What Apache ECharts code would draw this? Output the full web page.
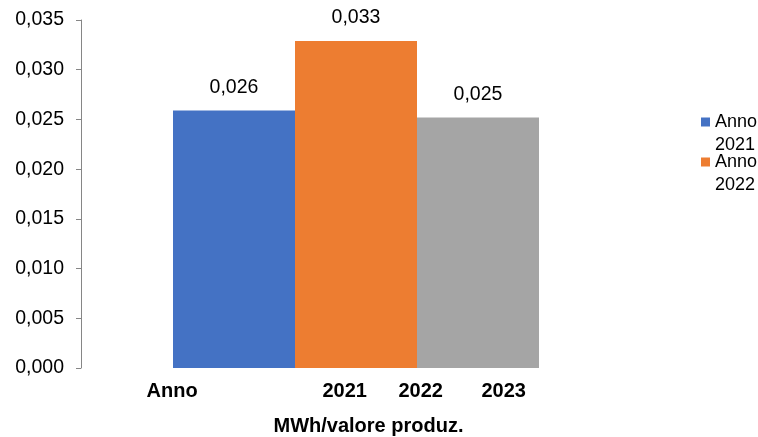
<!DOCTYPE html>
<html>
<head>
<meta charset="utf-8">
<script src="https://cdn.jsdelivr.net/npm/echarts@6/dist/echarts.min.js"></script>
<style>html,body{margin:0;padding:0;background:#fff}#c{width:758px;height:437px}</style>
</head>
<body>
<div id="c"></div>
<script>
var seriesNames = ['Anno 2021', 'Anno 2022', 'Anno 2023'];
var seriesValues = [0.0259, 0.0329, 0.0252];
var seriesLabels = ['0,026', '0,033', '0,025'];
var seriesColors = ['#4472C4', '#ED7D31', '#A5A5A5'];
var legendNames = ['Anno 2021', 'Anno 2022'];
var categories = ['Anno 2021 2022 2023'];
var axisTitle = 'MWh/valore produz.';

var chart = echarts.init(document.getElementById('c'), null, {renderer: 'canvas'});
var font = '"Liberation Sans", Arial, sans-serif';
var series = seriesNames.map(function (n, i) {
  return {
    name: n,
    type: 'bar',
    data: [seriesValues[i]],
    barWidth: 122,
    barGap: '0%',
    itemStyle: {color: seriesColors[i]},
    label: {
      show: true, position: 'top', distance: 13,
      formatter: function () { return seriesLabels[i]; },
      color: '#000', fontSize: 19.5, fontFamily: font
    }
  };
});
var bold = {fontSize: 20, fontWeight: 'bold', color: '#000', fontFamily: font, align: 'left'};
chart.setOption({
  animation: false,
  textStyle: {fontFamily: font},
  grid: {left: 81, right: 127, top: 20, bottom: 69, outerBoundsMode: 'none', containLabel: false},
  legend: {
    data: legendNames,
    orient: 'vertical', left: 696, top: 85,
    itemWidth: 9, itemHeight: 9, itemGap: -24,
    icon: 'rect',
    formatter: function (n) { return '{t| }\n{t|' + n.replace(' ', '}\n{t|') + '}'; },
    textStyle: {
      fontSize: 18, color: '#000', fontFamily: font,
      rich: {t: {fontSize: 18, lineHeight: 23, color: '#000', fontFamily: font}}
    }
  },
  xAxis: {
    type: 'category',
    data: categories,
    axisLine: {show: false},
    axisTick: {show: false},
    axisLabel: {
      margin: 13,
      formatter: function (v) {
        var p = v.split(' ');
        return '{a|' + p[0] + '}{b|' + p[1] + '}{c|' + p[2] + '}{d|' + p[3] + '}{e|}';
      },
      rich: {
        a: Object.assign({width: 176}, bold),
        b: Object.assign({width: 76}, bold),
        c: Object.assign({width: 83}, bold),
        d: Object.assign({width: 44}, bold),
        e: {width: 40}
      }
    },
    name: axisTitle,
    nameLocation: 'middle',
    nameGap: 48,
    nameTextStyle: {fontSize: 20, fontWeight: 'bold', color: '#000', fontFamily: font, padding: [0, 0, 0, 25]}
  },
  yAxis: {
    type: 'value',
    min: 0, max: 0.035, interval: 0.005,
    axisLine: {show: true, lineStyle: {color: '#868686', width: 1}},
    axisTick: {show: true, length: 5, lineStyle: {color: '#868686'}},
    splitLine: {show: false},
    axisLabel: {
      margin: 17,
      fontSize: 19.5, color: '#000', fontFamily: font,
      formatter: function (v) { return v.toFixed(3).replace('.', ','); }
    }
  },
  series: series
});
</script>
</body>
</html>
